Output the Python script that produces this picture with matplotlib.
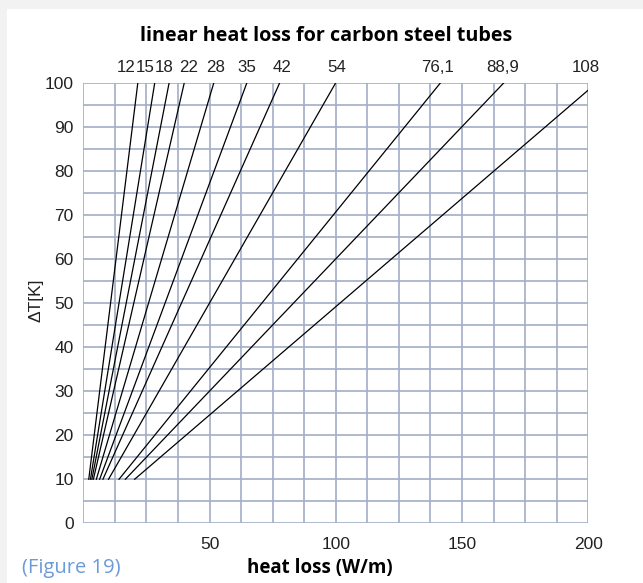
import matplotlib

matplotlib.use("Agg")
import matplotlib.pyplot as plt
import numpy as np

# tube outer diameters (mm) and heat loss (W/m) read at dT = 100 K
diameters = ["12", "15", "18", "22", "28", "35", "42", "54", "76,1", "88,9", "108"]
loss_at_100k = [21.6, 28.3, 34.0, 40.0, 51.7, 64.8, 77.8, 100.0, 141.5, 166.6, 203.4]
label_x = [17.1, 24.6, 32.0, 41.7, 52.2, 64.8, 78.7, 100.5, 140.5, 166.2, 199.0]

y_ticks = list(range(0, 101, 10))
x_ticks = [50, 100, 150, 200]

GRID = "#a2aec6"
TEXT = "#222222"
num_font = "Liberation Sans"
head_font = "Open Sans"

fig = plt.figure(figsize=(6.43, 5.83), dpi=100)
fig.patch.set_facecolor("#f2f2f2")
fig.patches.append(
    plt.Rectangle((7 / 643, 0), 1, 1 - 9 / 583, transform=fig.transFigure,
                  facecolor="white", edgecolor="none", zorder=-10)
)

ax = fig.add_axes([83.3 / 643, 1 - 523.3 / 583, 505 / 643, 440.6 / 583])
ax.set_zorder(5)
ax.set_xlim(0, 200)
ax.set_ylim(0, 100)

# grid: 12.5 W/m columns, 5 K rows
for gx in np.arange(0, 200.1, 12.5):
    ax.axvline(gx, color=GRID, lw=1.2, zorder=1)
for gy in np.arange(0, 100.1, 5):
    ax.axhline(gy, color=GRID, lw=1.2, zorder=1)
for s in ax.spines.values():
    s.set_visible(False)

# heat loss is proportional to dT, lines drawn from 10 K to 100 K
for q in loss_at_100k:
    ax.plot([q / 10, q], [10, 100], color="black", lw=0.9, zorder=3)

for name, lx in zip(diameters, label_x):
    ax.text(lx, 103.5, name, ha="center", va="center", fontsize=12.2,
            family=num_font, color=TEXT, clip_on=False)

ax.set_yticks(y_ticks)
ax.set_xticks(x_ticks)
ax.tick_params(length=0, labelsize=12.5, labelcolor=TEXT)
ax.tick_params(axis="x", pad=10)
ax.tick_params(axis="y", pad=7)
for lab in ax.get_xticklabels() + ax.get_yticklabels():
    lab.set_family(num_font)

fig.text(36 / 643, 1 - 300 / 583, "ΔT[K]", rotation=90, ha="center",
         va="center", fontsize=12.5, family=num_font, color=TEXT)

fig.text(326 / 643, 1 - 36 / 583, "linear heat loss for carbon steel tubes",
         ha="center", va="center", fontsize=14.2, fontweight="bold",
         family=head_font, color="black")
fig.text(320 / 643, 1 - 568 / 583, "heat loss (W/m)", ha="center",
         va="center", fontsize=13.5, fontweight="bold", family=head_font,
         color="black")
fig.text(22 / 643, 1 - 568 / 583, "(Figure 19)", ha="left", va="center",
         fontsize=14.5, family=head_font, color="#6b9bd8")

fig.savefig("out.png", dpi=100, facecolor=fig.get_facecolor())
